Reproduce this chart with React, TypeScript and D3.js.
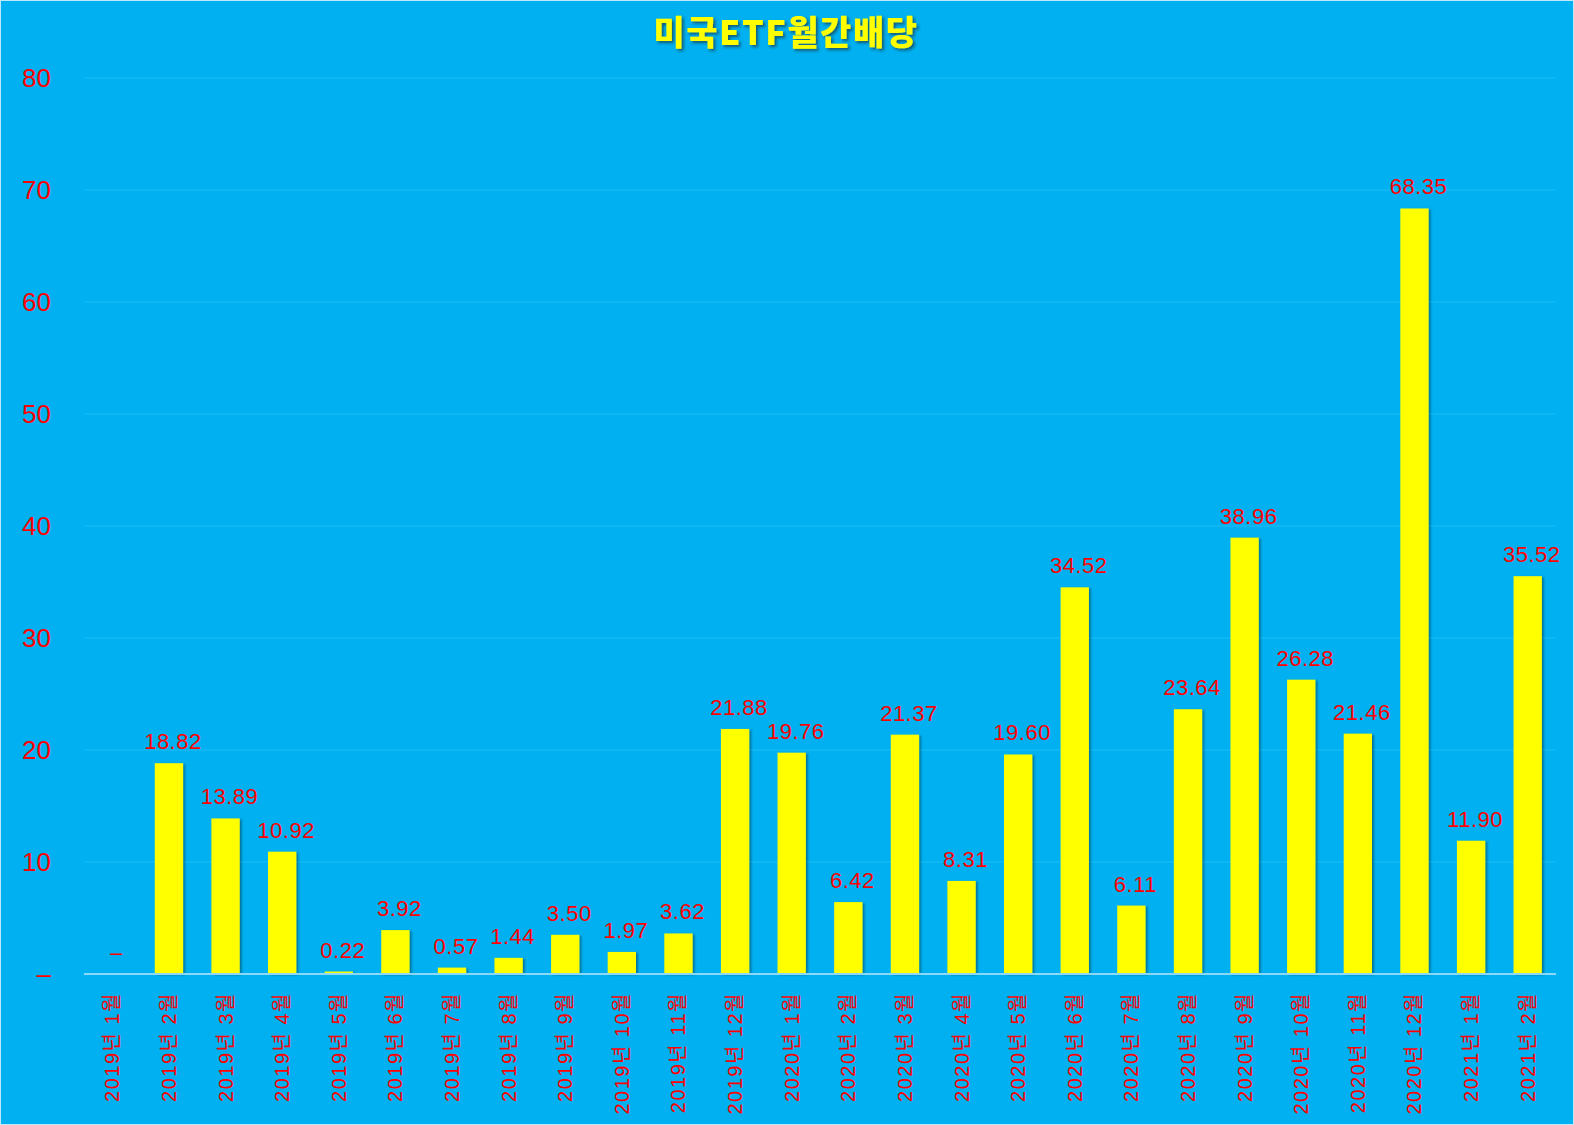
import React from "react";
import * as d3 from "d3";

const categories = [
  "2019년 1월", "2019년 2월", "2019년 3월", "2019년 4월", "2019년 5월", "2019년 6월",
  "2019년 7월", "2019년 8월", "2019년 9월", "2019년 10월", "2019년 11월", "2019년 12월",
  "2020년 1월", "2020년 2월", "2020년 3월", "2020년 4월", "2020년 5월", "2020년 6월",
  "2020년 7월", "2020년 8월", "2020년 9월", "2020년 10월", "2020년 11월", "2020년 12월",
  "2021년 1월", "2021년 2월",
];
const values = [
  0, 18.82, 13.89, 10.92, 0.22, 3.92, 0.57, 1.44, 3.5, 1.97, 3.62, 21.88,
  19.76, 6.42, 21.37, 8.31, 19.6, 34.52, 6.11, 23.64, 38.96, 26.28, 21.46, 68.35,
  11.9, 35.52,
];
const yTicks = [0, 10, 20, 30, 40, 50, 60, 70, 80];
const title = "미국ETF월간배당";

const W = 1574;
const H = 1125;
const fontLatin = "'Liberation Sans', Arial, 'Noto Sans CJK KR', sans-serif";

export default function App() {
  const x = d3.scaleBand<string>().domain(categories).range([84, 1556]).paddingInner(0.5).paddingOuter(0.25);
  const y = d3.scaleLinear().domain([0, 80]).range([974, 78]);
  const fmt = (v: number) => (v === 0 ? "–" : d3.format(".2f")(v));

  return (
    <svg width={W} height={H} style={{ position: "absolute", left: 0, top: 0 }}>
      <defs>
        <filter id="barShadow" x="-20%" y="-5%" width="150%" height="115%">
          <feDropShadow dx="2" dy="1" stdDeviation="1.2" floodColor="#000" floodOpacity="0.35" />
        </filter>
        <filter id="titleShadow" x="-10%" y="-30%" width="120%" height="170%">
          <feDropShadow dx="2" dy="2" stdDeviation="1.5" floodColor="#222" floodOpacity="0.6" />
        </filter>
      </defs>
      <rect x={0} y={0} width={W} height={H} fill="#00B0F0" />
      <rect x={0.5} y={0.5} width={W - 1} height={H - 1} fill="none" stroke="#BFE9FA" strokeWidth={1} />
      <text
        x={786}
        y={45}
        textAnchor="middle"
        fill="#FFFF00"
        fontSize={34}
        letterSpacing={1.5}
        fontWeight={900}
        fontFamily="'Noto Sans CJK KR', sans-serif"
        filter="url(#titleShadow)"
      >
        {title}
      </text>
      {yTicks.map((t) => (
        <g key={t}>
          {t > 0 && (
            <line x1={84} x2={1556} y1={y(t)} y2={y(t)} stroke="#1CBDF7" strokeWidth={1.2} />
          )}
          <text
            x={51}
            y={y(t)}
            dy="0.36em"
            textAnchor="end"
            fill="#FF0000"
            fontSize={26}
            fontFamily={fontLatin}
          >
            {t === 0 ? "–" : t}
          </text>
        </g>
      ))}
      {categories.map((c, i) => {
        const v = values[i];
        const bx = x(c)!;
        const bw = x.bandwidth();
        const cx = bx + bw / 2;
        return (
          <g key={c}>
            {v > 0 && (
              <rect x={bx} y={y(v)} width={bw} height={y(0) - y(v)} fill="#FFFF00" filter="url(#barShadow)" />
            )}
            <text
              x={cx + 4}
              y={y(v) - 14}
              textAnchor="middle"
              fill="#FF0000"
              fontSize={22}
              letterSpacing={0.5}
              fontFamily={fontLatin}
            >
              {fmt(v)}
            </text>
            <text
              transform={`translate(${cx + 7},${992}) rotate(-90)`}
              textAnchor="end"
              fill="#FF0000"
              fontSize={20}
              letterSpacing={1.5}
              fontFamily={fontLatin}
            >
              {c}
            </text>
          </g>
        );
      })}
      <line x1={84} x2={1556} y1={y(0)} y2={y(0)} stroke="#8CD9F7" strokeWidth={2} />
    </svg>
  );
}
